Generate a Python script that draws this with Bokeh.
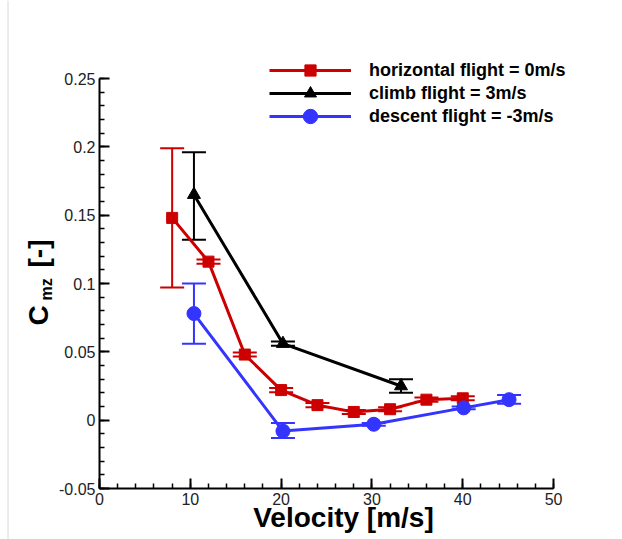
import math
from bokeh.plotting import figure
from bokeh.layouts import row
from bokeh.models import (Range1d, SingleIntervalTicker, CustomJSTickFormatter, Whisker,
                          TeeHead, ColumnDataSource, Legend, LegendItem, Label, Span)
from bokeh.embed import file_html
from bokeh.resources import INLINE

# ---- data ----
h_x = [8, 12, 16, 20, 24, 28, 32, 36, 40]
h_y = [0.148, 0.116, 0.048, 0.022, 0.011, 0.006, 0.008, 0.015, 0.016]
h_lo = [0.097, 0.1145, 0.0465, 0.0205, 0.0095, 0.0045, 0.0065, 0.0135, 0.0145]
h_hi = [0.199, 0.1175, 0.0495, 0.0235, 0.0125, 0.0075, 0.0095, 0.0165, 0.0175]

c_x = [10.4, 20.2, 33.2]
c_y = [0.165, 0.056, 0.025]
c_lo = [0.132, 0.0545, 0.020]
c_hi = [0.196, 0.0575, 0.030]

d_x = [10.4, 20.2, 30.2, 40.1, 45.1]
d_y = [0.078, -0.008, -0.003, 0.009, 0.015]
d_lo = [0.056, -0.013, -0.004, 0.008, 0.012]
d_hi = [0.100, -0.002, -0.002, 0.010, 0.0185]

labels = ["horizontal flight = 0m/s", "climb flight = 3m/s", "descent flight = -3m/s"]
x_title = "Velocity [m/s]"
y_title = ("C", "mz", "[-]")

X_MIN, X_MAX = 0, 50
Y_MIN, Y_MAX = -0.05, 0.25

RED = "#cc0000"
BLACK = "#000000"
BLUE = "#3434ff"
FONT = "Liberation Sans"

# ---- layout numbers (pixels) ----
LW = 56            # width of the y-title strip
H = 539
FRAME_W, FRAME_H = 455, 410
BL, BB = 42, 51
EXTRA_TOP = 30     # frame room above 0.25 / right of 50 so the legend is not clipped
EXTRA_RIGHT = 34
BT = H - BB - FRAME_H - EXTRA_TOP
BR = 622 - LW - BL - FRAME_W - EXTRA_RIGHT
y_end = Y_MAX + (Y_MAX - Y_MIN) * EXTRA_TOP / FRAME_H
x_end = X_MAX + (X_MAX - X_MIN) * EXTRA_RIGHT / FRAME_W

p = figure(width=622 - LW, height=H, output_backend="svg", toolbar_location=None,
           x_range=Range1d(X_MIN, x_end), y_range=Range1d(Y_MIN, y_end),
           min_border_left=BL, min_border_right=BR, min_border_top=BT, min_border_bottom=BB)
p.frame_align = False
p.outline_line_color = None
p.xgrid.visible = False
p.ygrid.visible = False

fmt = CustomJSTickFormatter(code="return String(Math.round(tick*1000)/1000)")
p.xaxis.ticker = SingleIntervalTicker(interval=10, num_minor_ticks=5)
p.yaxis.ticker = SingleIntervalTicker(interval=0.05, num_minor_ticks=5)
p.yaxis.formatter = fmt
p.xaxis.formatter = fmt
p.yaxis.bounds = (Y_MIN, Y_MAX)
p.xaxis.bounds = (X_MIN, X_MAX)
for ax in (p.xaxis, p.yaxis):
    ax.axis_line_width = 2
    ax.axis_line_color = "black"
    ax.major_tick_in = 10
    ax.major_tick_out = 0
    ax.minor_tick_in = 5
    ax.minor_tick_out = 0
    ax.major_tick_line_width = 2
    ax.minor_tick_line_width = 1.5
    ax.major_label_text_font = FONT
    ax.major_label_text_font_size = "16px"
    ax.major_label_text_color = "#222222"
    ax.major_label_standoff = 4
p.xaxis.axis_label = x_title
p.xaxis.axis_label_text_font = FONT
p.xaxis.axis_label_text_font_size = "28px"
p.xaxis.axis_label_text_font_style = "bold"
p.xaxis.axis_label_text_color = "black"
p.xaxis.axis_label_standoff = -6

series = [
    (h_x, h_y, h_lo, h_hi, RED, "square", 11),
    (c_x, c_y, c_lo, c_hi, BLACK, "triangle", 13),
    (d_x, d_y, d_lo, d_hi, BLUE, "circle", 14),
]
# legend rows: (vertical centre from frame bottom, glyph box height)
leg_rows = [(418, 28), (395, 30), (372, 36)]
for (xs, ys, lo, hi, col, mk, sz), lab, (cy, gh) in zip(series, labels, leg_rows):
    src = ColumnDataSource(dict(x=xs, y=ys, lo=lo, hi=hi))
    w = Whisker(base="x", lower="lo", upper="hi", source=src, dimension="height",
                line_color=col, line_width=2,
                upper_head=TeeHead(size=24, line_color=col, line_width=2),
                lower_head=TeeHead(size=24, line_color=col, line_width=2))
    p.add_layout(w)
    lr = p.line("x", "y", source=src, line_color=col, line_width=3)
    sr = p.scatter("x", "y", source=src, marker=mk, size=sz, fill_color=col, line_color=col)
    leg = Legend(items=[LegendItem(label=lab, renderers=[lr, sr])],
                 location=(170, cy - gh // 2), glyph_width=82, glyph_height=gh,
                 label_height=gh, spacing=0, padding=0, margin=0, label_standoff=18,
                 label_text_font=FONT, label_text_font_size="18px", label_text_color="black",
                 label_text_font_style="bold", border_line_color=None,
                 background_fill_alpha=0)
    p.add_layout(leg)

# ---- strip holding the rotated y title (C with subscript mz) ----
q = figure(width=LW, height=H, output_backend="svg", toolbar_location=None,
           x_axis_type=None, y_axis_type=None, x_range=Range1d(0, LW), y_range=Range1d(0, H),
           min_border=0, min_border_left=0, min_border_right=0, min_border_top=0,
           min_border_bottom=0)
q.frame_align = False
q.outline_line_color = None
q.xgrid.visible = False
q.ygrid.visible = False
q.add_layout(Span(location=7.5, dimension="height", line_color="#d8d8d8", line_width=1))
common = dict(x_units="screen", y_units="screen", text_font=FONT, text_font_style="bold",
              text_color="black", text_baseline="middle", text_align="left",
              angle=math.pi / 2)
q.add_layout(Label(x=38, y=214, text=y_title[0], text_font_size="28px", **common))
q.add_layout(Label(x=46, y=239, text=y_title[1], text_font_size="16px", **common))
q.add_layout(Label(x=38, y=272, text=y_title[2], text_font_size="28px", **common))

lay = row(q, p, spacing=0)
open("out.html", "w").write(file_html(lay, INLINE))
